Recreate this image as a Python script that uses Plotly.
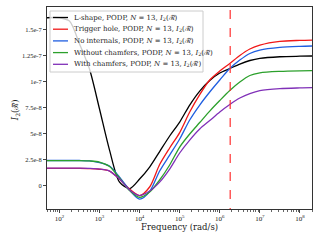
import plotly.graph_objects as go

# Frequency grid (rad/s)
freq = [49, 100, 178, 316, 562, 1000, 1778, 3162, 5623, 10000, 17783, 31623,
        56234, 1e5, 177828, 316228, 562341, 1e6, 1778279, 3162278, 5623413,
        1e7, 31622777, 1e8, 2e8]

# I2 values in units of 1e-8
i2_lshape = [16.11, 16.11, 15.79, 13.61, 11.19, 7.36, 3.42, 0.35, -0.27, 0.64,
             1.79, 3.28, 4.77, 6.11, 7.74, 9.08, 10.09, 10.81, 11.24, 11.67,
             12.01, 12.22, 12.37, 12.42, 12.44]
i2_trigger = [1.67, 1.67, 1.67, 1.67, 1.65, 1.58, 1.41, 0.64, -0.32, -0.94,
              -0.12, 2.03, 3.62, 5.10, 7.07, 8.74, 10.14, 11.0, 11.72, 12.49,
              13.11, 13.49, 13.85, 13.94, 13.97]
i2_nointernals = [2.42, 2.42, 2.42, 2.42, 2.39, 2.22, 1.89, 0.83, -0.41, -1.28,
                  -0.56, 1.41, 2.94, 4.48, 6.30, 7.74, 8.99, 10.14, 11.24, 12.05,
                  12.68, 13.01, 13.27, 13.37, 13.40]
i2_without = [2.41, 2.41, 2.41, 2.41, 2.38, 2.27, 1.84, 0.74, -0.46, -1.11,
              -0.60, 0.55, 1.99, 3.71, 4.96, 6.06, 7.16, 8.17, 9.13, 9.94,
              10.57, 10.83, 10.97, 11.02, 11.03]
i2_with = [1.68, 1.68, 1.68, 1.68, 1.66, 1.60, 1.41, 0.64, -0.41, -0.94,
           -0.51, 0.35, 1.60, 3.14, 4.38, 5.44, 6.25, 7.07, 7.79, 8.41,
           8.84, 9.13, 9.32, 9.38, 9.40]

vline_freq = 1.82e6

RT = "ℛ\u0303"
names = [
    "L-shape, PODP, <i>N</i> = 13, <i>I</i><sub>2</sub>(" + RT + ")",
    "Trigger hole, PODP, <i>N</i> = 13, <i>I</i><sub>2</sub>(" + RT + ")",
    "No internals, PODP, <i>N</i> = 13, <i>I</i><sub>2</sub>(" + RT + ")",
    "Without chamfers, PODP, <i>N</i> = 13, <i>I</i><sub>2</sub>(" + RT + ")",
    "With chamfers, PODP, <i>N</i> = 13, <i>I</i><sub>2</sub>(" + RT + ")",
]
series = [i2_lshape, i2_trigger, i2_nointernals, i2_without, i2_with]
colors = ["#000000", "#f01818", "#1f5ee0", "#2ca02c", "#8030b8"]

ytickvals = [0, 2.5, 5, 7.5, 10, 12.5, 15]
yticktext = ["0", "2.5e-8", "5e-8", "7.5e-8", "1e-7", "1.25e-7", "1.5e-7"]
xtickvals = [1e2, 1e3, 1e4, 1e5, 1e6, 1e7, 1e8]
xticktext = ["10<sup>%d</sup>" % k for k in range(2, 9)]
minor_vals = [m * 10 ** d for d in range(1, 9) for m in range(2, 10)]

FONT = "Liberation Serif"
FONT2 = "DejaVu Serif"

fig = go.Figure()
for name, ys, c in zip(names, series, colors):
    fig.add_trace(go.Scatter(x=freq, y=ys, mode="lines", name=name,
                             line=dict(color=c, width=1.3, shape="spline", smoothing=0.8),
                             showlegend=False))

fig.add_trace(go.Scatter(x=[vline_freq, vline_freq], y=[-3, 18], mode="lines",
                         line=dict(color="#ff3030", width=1.2, dash="dash"),
                         showlegend=False))

fig.update_layout(
    width=320, height=240,
    margin=dict(l=47, r=8, t=7, b=31, autoexpand=False),
    paper_bgcolor="white", plot_bgcolor="white",
    font=dict(family=FONT, size=7, color="#222"),
)
fig.update_xaxes(type="log", range=[1.69, 8.301], tickvals=xtickvals, ticktext=xticktext,
                 ticks="outside", ticklen=3, tickcolor="#444", showgrid=False,
                 showline=True, linecolor="#333", linewidth=1, mirror=True,
                 zeroline=False, tickfont=dict(size=7), automargin=False,
                 minor=dict(tickvals=minor_vals, ticks="outside", ticklen=1.8,
                            tickcolor="#666", showgrid=False))
fig.update_yaxes(range=[-2.23, 17.14], tickvals=ytickvals, ticktext=yticktext,
                 ticks="outside", ticklen=3, tickcolor="#444", showgrid=False,
                 showline=True, linecolor="#333", linewidth=1, mirror=True,
                 zeroline=False, tickfont=dict(size=6.5), automargin=False)

# axis titles
fig.add_annotation(text="Frequency (rad/s)", xref="paper", yref="paper",
                   x=0.5, y=-0.088, showarrow=False, yanchor="middle",
                   font=dict(size=8.5, family=FONT2, color="#222"))
fig.add_annotation(text="<i>I</i><sub>2</sub>(" + RT + ")", xref="paper", yref="paper",
                   x=-0.12, y=0.49, showarrow=False, textangle=-90,
                   xanchor="center", yanchor="middle",
                   font=dict(size=8.5, family=FONT2, color="#222"))

# legend box (manual, matplotlib-like)
def px2x(p):
    return (p - 47) / 265.0

def py2y(p):
    return (209 - p) / 202.0

fig.add_shape(type="rect", xref="paper", yref="paper",
              x0=px2x(50), x1=px2x(203), y0=py2y(72), y1=py2y(11),
              fillcolor="rgba(255,255,255,0.8)", line=dict(color="#cccccc", width=1),
              layer="above")
row_y = [17.5, 29.2, 40.9, 52.6, 64.3]
for name, c, ry in zip(names, colors, row_y):
    fig.add_shape(type="line", xref="paper", yref="paper",
                  x0=px2x(53), x1=px2x(68), y0=py2y(ry), y1=py2y(ry),
                  line=dict(color=c, width=1.3), layer="above")
    fig.add_annotation(text=name, xref="paper", yref="paper",
                       x=px2x(72), y=py2y(ry), xanchor="left", yanchor="middle",
                       showarrow=False, font=dict(size=7, family=FONT2, color="#222"))

fig.write_html("out.html", config={"displayModeBar": False},
               post_script="document.body.style.margin='0';")
